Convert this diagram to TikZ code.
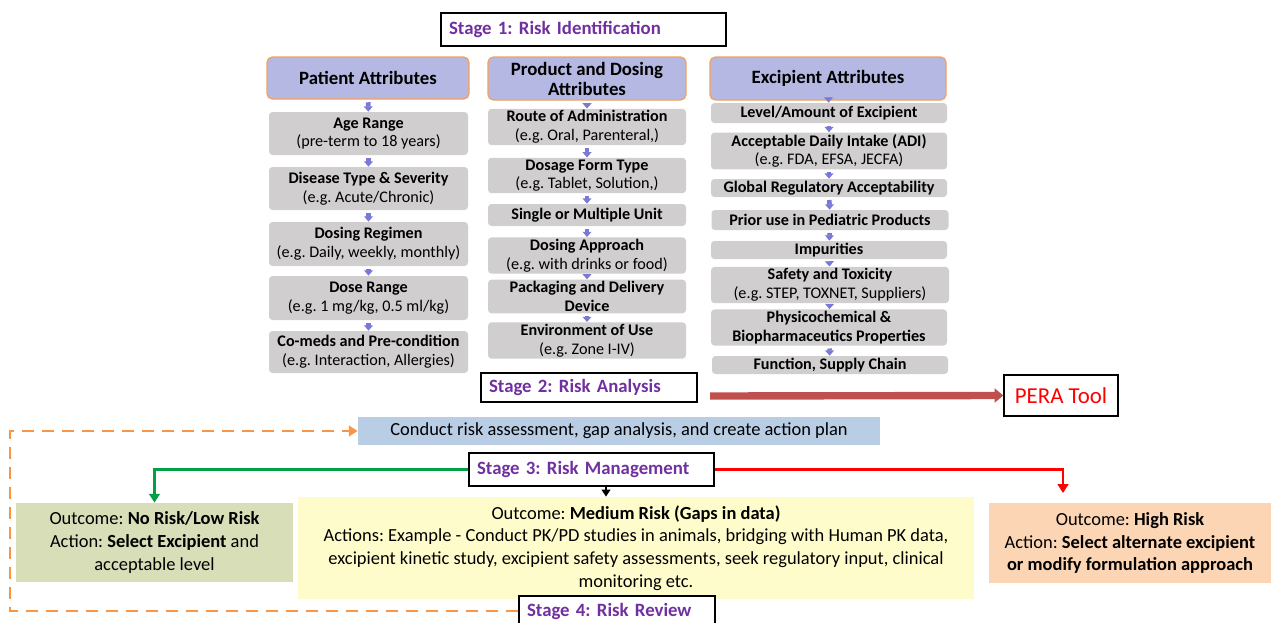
\documentclass[tikz,border=0pt]{standalone}
\usepackage{fontspec}
\setmainfont{Carlito}
\usetikzlibrary{arrows.meta}
\frenchspacing

\definecolor{stagepurple}{RGB}{112,48,160}
\definecolor{hdrfill}{RGB}{180,184,226}
\definecolor{hdrline}{RGB}{245,160,90}
\definecolor{attrgray}{RGB}{208,206,207}
\definecolor{smallarrow}{RGB}{122,122,214}
\definecolor{peraarrow}{RGB}{192,80,77}
\definecolor{conductfill}{RGB}{185,205,229}
\definecolor{lowfill}{RGB}{215,222,184}
\definecolor{medfill}{RGB}{255,252,204}
\definecolor{highfill}{RGB}{252,213,180}
\definecolor{loopline}{RGB}{247,150,70}
\definecolor{lowline}{RGB}{0,160,70}

\begin{document}
\begin{tikzpicture}[x=0.02cm, y=-0.02cm,
  every node/.style = {align=center, inner sep=1pt},
  sz/.style 2 args = {minimum width={#1*0.02cm}, minimum height={#2*0.02cm}},
  stagebox/.style 2 args = {draw, line width=0.8pt, align=left,
    inner xsep=0.16cm, text width={(#1-16)*0.02cm}, minimum height={#2*0.02cm},
    font=\fontsize{10.7}{12}\selectfont\bfseries, text=stagepurple},
  hdr/.style = {fill=hdrfill, draw=hdrline, line width=0.7pt, rounded corners=3pt,
    font=\fontsize{10.7}{11.4}\selectfont\bfseries},
  attr/.style = {fill=attrgray, rounded corners=2pt,
    font=\fontsize{9.2}{10.6}\selectfont\bfseries},
  outcome/.style = {font=\fontsize{10.5}{13}\selectfont},
  smallarr/.style = {draw=smallarrow, line width=2.6pt, shorten <=1.5pt,
    -{Triangle[width=5pt,length=3pt]}}]
  \useasboundingbox (0,0) rectangle (1271,622);

  % stage 1 and the three attribute columns
  \node[stagebox={285}{33}] (st1) at (583.5,29.5) {Stage 1: Risk Identification};

  \node[hdr, sz={202}{42}] (pat) at (368,78) {Patient Attributes};
  \node[hdr, sz={198}{43}] (prod) at (587,78.5) {Product and Dosing\\Attributes};
  \node[hdr, sz={236}{43}] (exc) at (828,78.5) {Excipient Attributes};

  \node[attr, sz={199}{43}] (age) at (368.5,133.5) {Age Range\\{\mdseries (pre-term to 18 years)}};
  \node[attr, sz={199}{43}] (dis) at (368.5,188.5) {Disease Type \& Severity\\{\mdseries (e.g. Acute/Chronic)}};
  \node[attr, sz={199}{44}] (reg) at (368.5,244) {Dosing Regimen\\{\mdseries (e.g. Daily, weekly, monthly)}};
  \node[attr, sz={199}{44}] (drange) at (368.5,298) {Dose Range\\{\mdseries (e.g. 1 mg/kg, 0.5 ml/kg)}};
  \node[attr, sz={199}{42}] (comed) at (368.5,352) {Co-meds and Pre-condition\\{\mdseries (e.g. Interaction, Allergies)}};

  \node[attr, sz={198}{36}] (route) at (587,127) {Route of Administration\\{\mdseries (e.g. Oral, Parenteral,)}};
  \node[attr, sz={198}{35}] (form) at (587,175.5) {Dosage Form Type\\{\mdseries (e.g. Tablet, Solution,)}};
  \node[attr, sz={198}{22}] (unit) at (587,215) {Single or Multiple Unit};
  \node[attr, sz={198}{35}] (appr) at (587,255.5) {Dosing Approach\\{\mdseries (e.g. with drinks or food)}};
  \node[attr, sz={198}{31}] (pack) at (587,296.5) {Packaging and Delivery\\Device};
  \node[attr, sz={198}{35}] (env) at (587,340.5) {Environment of Use\\{\mdseries (e.g. Zone I-IV)}};

  \node[attr, sz={236}{20}] (level) at (829,113) {Level/Amount of Excipient};
  \node[attr, sz={236}{34}] (adi) at (829,151) {Acceptable Daily Intake (ADI)\\{\mdseries (e.g. FDA, EFSA, JECFA)}};
  \node[attr, sz={236}{18}] (glob) at (829,188) {Global Regulatory Acceptability};
  \node[attr, sz={237}{20}] (prior) at (830,220) {Prior use in Pediatric Products};
  \node[attr, sz={236}{18}] (impur) at (829,250) {Impurities};
  \node[attr, sz={238}{34}] (safe) at (830,285) {Safety and Toxicity\\{\mdseries (e.g. STEP, TOXNET, Suppliers)}};
  \node[attr, sz={236}{35}] (phys) at (829,327.5) {Physicochemical \&\\Biopharmaceutics Properties};
  \node[attr, sz={236}{18}] (func) at (830,365) {Function, Supply Chain};

  \foreach \a/\b in {pat/age, age/dis, dis/reg, reg/drange, drange/comed,
      prod/route, route/form, form/unit, unit/appr, appr/pack, pack/env,
      exc/level, level/adi, adi/glob, glob/prior, prior/impur, impur/safe,
      safe/phys, phys/func}
    \draw[smallarr] (\a) -- (\b);

  % stage 2
  \node[stagebox={216}{29}] (st2) at (589,387.5) {Stage 2: Risk Analysis};
  \node[draw, line width=0.8pt, sz={114}{41}, text=red,
    font=\fontsize{13}{15}\selectfont] (pera) at (1061,395.5) {PERA Tool};
  \coordinate (peraStart) at (710,396);
  \draw[peraarrow, line width=4.2pt, -{Triangle[width=8pt,length=5pt]}] (peraStart) -- (pera.west);
  \node[fill=conductfill, sz={522}{28}, font=\fontsize{10.5}{12}\selectfont] (conduct) at (619,431)
    {Conduct risk assessment, gap analysis, and create action plan};

  % stage 3
  \node[stagebox={245}{33}] (st3) at (591.5,469.5) {Stage 3: Risk Management};
  \node[outcome, fill=lowfill, sz={277}{79}] (low) at (154.5,542.5)
    {Outcome: \textbf{No Risk/Low Risk}\\Action: \textbf{Select Excipient} and\\acceptable level};
  \node[outcome, fill=medfill, sz={676}{102}] (med) at (636,548)
    {Outcome: \textbf{Medium Risk (Gaps in data)}\\
     Actions: Example - Conduct PK/PD studies in animals, bridging with Human PK data,\\
     excipient kinetic study, excipient safety assessments, seek regulatory input, clinical\\
     monitoring etc.};
  \node[outcome, fill=highfill, sz={282}{80}] (high) at (1130,543)
    {Outcome: \textbf{High Risk}\\Action: \textbf{Select alternate excipient}\\\textbf{or modify formulation approach}};
  \coordinate (highTip) at (1063,493);

  \draw[lowline, line width=1.6pt, -{Triangle[width=6pt,length=5pt]}] (st3.west) -| (low.north);
  \draw[red, line width=1.6pt, -{Triangle[width=6pt,length=5pt]}] (st3.east) -| (highTip);
  \draw[line width=1.2pt, -{Triangle[width=5pt,length=4pt]}] ([xshift=0.29cm]st3.south) -- ([xshift=0.29cm]st3.south |- med.north);

  % stage 4 and the review loop
  \node[stagebox={196}{30}, fill=white] (st4) at (617,611) {Stage 4: Risk Review};
  \coordinate (loopL) at (10,520);
  \draw[loopline, line width=1.6pt, dash pattern=on 0.24cm off 0.16cm,
    -{Triangle[width=6pt,length=5pt]}] (st4.west) -| (loopL) |- (conduct.west);
\end{tikzpicture}
\end{document}
